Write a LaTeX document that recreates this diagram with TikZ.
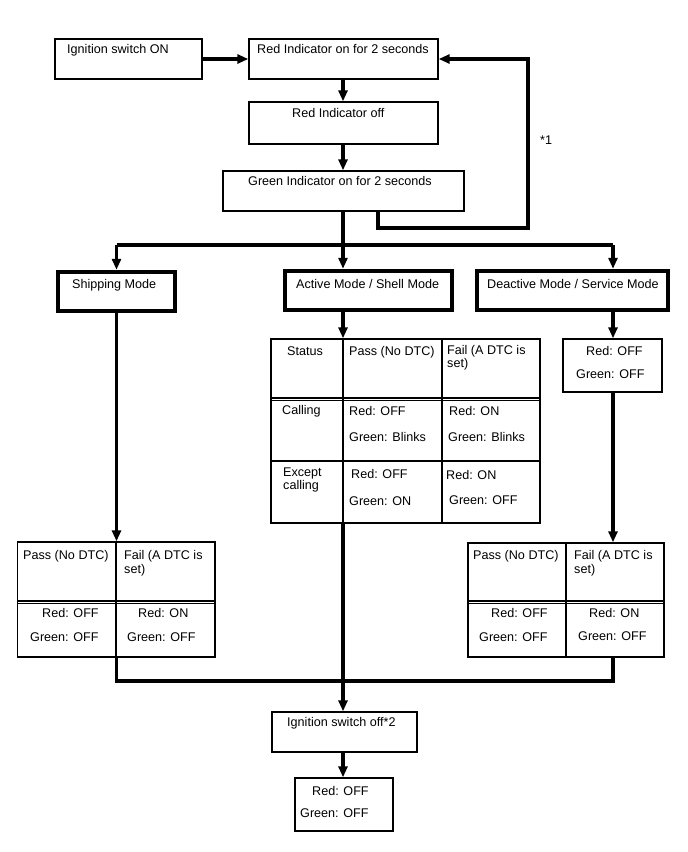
\documentclass[tikz,border=0pt]{standalone}
\usepackage{fontspec}
\setmainfont{Liberation Sans}
\usetikzlibrary{arrows.meta}
\begin{document}
\begin{tikzpicture}[x=1pt,y=-1pt,
  box/.style={draw, line width=1.4pt, inner sep=0pt, rectangle},
  modebox/.style={draw, line width=4.5pt, inner sep=0pt, rectangle},
  conn/.style={line width=3.1pt},
  arr/.style={conn, -{Triangle[length=11pt,width=9pt]}},
  lbl/.style={anchor=base west, inner sep=0pt, font=\fontsize{12.6}{14}\selectfont},
  tline/.style={line width=1.4pt}]
\useasboundingbox (0,0) rectangle (688,852);
\fill[white] (0,0) rectangle (688,852);

% boxes
\node[box, minimum width=147pt, minimum height=40pt] (ignon) at (128.5,59) {};
\node[box, minimum width=189pt, minimum height=40pt] (rion) at (343.5,59) {};
\node[box, minimum width=189pt, minimum height=42pt] (roff) at (343.5,123) {};
\node[box, minimum width=241pt, minimum height=40pt] (gon) at (343.5,191) {};
\node[modebox, minimum width=117pt, minimum height=39pt] (ship) at (116.5,291.5) {};
\node[modebox, minimum width=167pt, minimum height=39pt] (act) at (368.5,290.5) {};
\node[modebox, minimum width=191pt, minimum height=39pt] (deact) at (572.5,290.5) {};
\node[box, minimum width=269pt, minimum height=184pt] (ctab) at (405.5,431) {};
\node[box, minimum width=99pt, minimum height=53pt] (rg) at (612.5,365.5) {};
\node[box, minimum width=197.5pt, minimum height=115pt] (ltab) at (116.25,599.5) {};
\node[box, minimum width=196pt, minimum height=114pt] (rtab) at (566,600) {};
\node[box, minimum width=145pt, minimum height=40pt] (ioff) at (344.5,732) {};
\node[box, minimum width=98pt, minimum height=53pt] (fin) at (344,804.5) {};

% table rules
\draw[tline] (343,339) -- (343,523);
\draw[tline] (442,339) -- (442,523);
\draw[tline] (271,398) -- (540,398);
\draw[tline] (271,400.7) -- (540,400.7);
\draw[tline] (271,461) -- (540,461);

\draw[tline] (116,542) -- (116,657);
\draw[tline] (17.5,601) -- (215,601);
\draw[tline] (17.5,603.7) -- (215,603.7);

\draw[tline] (566,543) -- (566,657);
\draw[tline] (468,601) -- (664,601);
\draw[tline] (468,603.7) -- (664,603.7);

% coordinates
\coordinate (mainx) at (343,0);
\coordinate (fbx) at (378,0);
\coordinate (fbcorner) at (528,228);
\coordinate (split) at (343,245);
\coordinate (dx) at (613,245);
\coordinate (jn) at (343,681);

% connectors
\draw[arr] (ignon.east) -- (rion.west);
\draw[arr] (mainx |- rion.south) -- (mainx |- roff.north);
\draw[arr] (mainx |- roff.south) -- (mainx |- gon.north);
\draw[arr] (fbx |- gon.south) |- (fbcorner) |- (rion.east);
\draw[conn] (mainx |- gon.south) -- (split);
\draw[conn] (split -| ship.north) -- (dx);
\draw[arr] (split -| ship.north) -- (ship.north);
\draw[arr] (split) -- (mainx |- act.north);
\draw[arr] (dx) -- (dx |- deact.north);
\draw[arr] (mainx |- act.south) -- (mainx |- ctab.north);
\draw[arr] (dx |- deact.south) -- (dx |- rg.north);
\draw[arr] (dx |- rg.south) -- (dx |- rtab.north);
\draw[arr] (ship.south) -- (ship.south |- ltab.north);
\draw[conn] (ship.south |- ltab.south) |- (jn) -| (dx |- rtab.south);
\draw[arr] (mainx |- ctab.south) -- (mainx |- ioff.north);
\draw[arr] (mainx |- ioff.south) -- (mainx |- fin.north);

% labels
\node[lbl] (t1) at (67,53) {Ignition switch ON};
\node[lbl] (t2) at (257,53) {Red Indicator on for 2 seconds};
\node[lbl] (t3) at (292,117) {Red Indicator off};
\node[lbl] (t4) at (248,185) {Green Indicator on for 2 seconds};
\node[lbl] (t5) at (540,144) {*1};
\node[lbl] (t6) at (72,288) {Shipping Mode};
\node[lbl] (t7) at (296,288) {Active Mode / Shell Mode};
\node[lbl] (t8) at (487,288) {Deactive Mode / Service Mode};

\node[lbl] (c1) at (287,355) {Status};
\node[lbl] (c2) at (349,355) {Pass (No DTC)};
\node[lbl] (c3) at (447,354) {Fail (A DTC is};
\node[lbl] (c4) at (447,367) {set)};
\node[lbl] (c5) at (282,414) {Calling};
\node[lbl] (c6) at (349,415) {Red: OFF};
\node[lbl] (c7) at (349,441) {Green: Blinks};
\node[lbl] (c8) at (449,415) {Red: ON};
\node[lbl] (c9) at (448,441) {Green: Blinks};
\node[lbl] (c10) at (283,476) {Except};
\node[lbl] (c11) at (283,489) {calling};
\node[lbl] (c12) at (351,478) {Red: OFF};
\node[lbl] (c13) at (349,505) {Green: ON};
\node[lbl] (c14) at (446,479) {Red: ON};
\node[lbl] (c15) at (449,504) {Green: OFF};

\node[lbl] (r1) at (586,355) {Red: OFF};
\node[lbl] (r2) at (576,378) {Green: OFF};

\node[lbl] (l1) at (23,559) {Pass (No DTC)};
\node[lbl] (l2) at (124,559) {Fail (A DTC is};
\node[lbl] (l3) at (124,573) {set)};
\node[lbl] (l4) at (42,617) {Red: OFF};
\node[lbl] (l5) at (30,641) {Green: OFF};
\node[lbl] (l6) at (138,617) {Red: ON};
\node[lbl] (l7) at (127,641) {Green: OFF};

\node[lbl] (s1) at (473,559) {Pass (No DTC)};
\node[lbl] (s2) at (574,559) {Fail (A DTC is};
\node[lbl] (s3) at (574,573) {set)};
\node[lbl] (s4) at (491,617) {Red: OFF};
\node[lbl] (s5) at (479,641) {Green: OFF};
\node[lbl] (s6) at (589,617) {Red: ON};
\node[lbl] (s7) at (578,640) {Green: OFF};

\node[lbl] (b1) at (287,726) {Ignition switch off*2};
\node[lbl] (b2) at (312,795) {Red: OFF};
\node[lbl] (b3) at (300,817) {Green: OFF};
\end{tikzpicture}
\end{document}
